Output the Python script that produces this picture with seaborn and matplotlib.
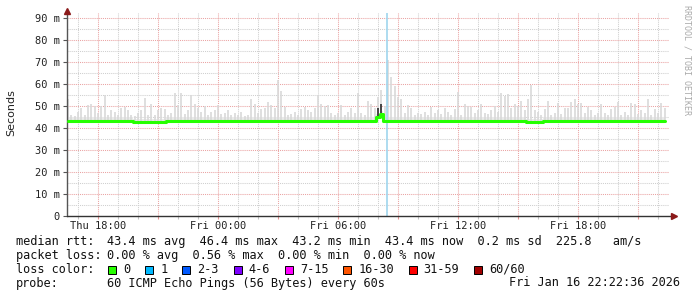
import numpy as np
import pandas as pd
import matplotlib
matplotlib.use("Agg")
import matplotlib.pyplot as plt
import matplotlib.dates as mdates
from matplotlib.patches import Rectangle
import seaborn as sns

# ---------------- data ----------------
start_time = "2026-01-15 16:30"
step = "10min"

median_ms = [
    43.4, 43.4, 43.4, 43.4, 43.4, 43.4, 43.4, 43.4, 43.4, 43.4,
    43.4, 43.4, 43.4, 43.4, 43.4, 43.4, 43.4, 43.4, 43.4, 43.4,
    42.9, 42.9, 42.9, 42.9, 42.9, 42.9, 42.9, 42.9, 42.9, 42.9,
    43.4, 43.4, 43.4, 43.4, 43.4, 43.4, 43.4, 43.4, 43.4, 43.4,
    43.4, 43.4, 43.4, 43.4, 43.4, 43.4, 43.4, 43.4, 43.4, 43.4,
    43.4, 43.4, 43.4, 43.4, 43.4, 43.4, 43.4, 43.4, 43.4, 43.4,
    43.4, 43.4, 43.4, 43.4, 43.4, 43.4, 43.4, 43.4, 43.4, 43.4,
    43.4, 43.4, 43.4, 43.4, 43.4, 43.4, 43.4, 43.4, 43.4, 43.4,
    43.4, 43.4, 43.4, 43.4, 43.4, 43.4, 43.4, 43.4, 43.4, 43.4,
    43.4, 43.4, 43.4, 44.8, 46.4, 43.4, 43.4, 43.4, 43.4, 43.4,
    43.4, 43.4, 43.4, 43.4, 43.4, 43.4, 43.4, 43.4, 43.4, 43.4,
    43.4, 43.4, 43.4, 43.4, 43.4, 43.4, 43.4, 43.4, 43.4, 43.4,
    43.4, 43.4, 43.4, 43.4, 43.4, 43.4, 43.4, 43.4, 43.4, 43.4,
    43.4, 43.4, 43.4, 43.4, 43.4, 43.4, 43.4, 43.4, 42.9, 42.9,
    42.9, 42.9, 42.9, 43.4, 43.4, 43.4, 43.4, 43.4, 43.4, 43.4,
    43.4, 43.4, 43.4, 43.4, 43.4, 43.4, 43.4, 43.4, 43.4, 43.4,
    43.4, 43.4, 43.4, 43.4, 43.4, 43.4, 43.4, 43.4, 43.4, 43.4,
    43.4, 43.4, 43.4, 43.4, 43.4, 43.4, 43.4, 43.4, 43.4, 43.4,
]

smoke_top_ms = [
    53.0, 46.0, 45.5, 47.5, 49.0, 46.0, 50.5, 51.0, 50.0, 47.0,
    50.0, 55.0, 46.0, 48.0, 47.5, 46.0, 49.0, 49.5, 48.0, 46.0,
    45.5, 47.0, 48.0, 53.5, 46.0, 51.0, 46.0, 48.0, 49.0, 48.5,
    46.0, 47.0, 56.0, 50.5, 56.0, 46.5, 48.0, 55.0, 51.0, 49.0,
    47.5, 50.0, 46.0, 47.5, 48.0, 50.5, 46.5, 47.0, 48.0, 46.0,
    47.0, 46.0, 47.5, 45.5, 46.0, 53.0, 51.0, 47.0, 48.5, 49.0,
    52.0, 50.5, 49.0, 62.0, 57.0, 49.5, 46.0, 46.5, 47.5, 46.0,
    48.5, 49.5, 48.0, 47.5, 49.0, 55.0, 51.0, 50.0, 50.5, 47.0,
    46.0, 47.0, 50.5, 46.0, 47.5, 49.0, 47.0, 56.0, 47.0, 46.0,
    52.5, 51.0, 49.0, 54.0, 57.5, 50.0, 71.0, 63.5, 59.0, 54.0,
    53.0, 47.0, 50.5, 49.0, 46.0, 47.0, 46.5, 47.5, 46.0, 49.5,
    47.0, 48.0, 46.5, 49.0, 47.5, 46.0, 48.5, 56.5, 46.0, 51.0,
    50.0, 49.5, 47.0, 48.0, 51.0, 47.0, 46.5, 48.0, 50.0, 47.5,
    56.0, 54.5, 55.5, 49.0, 51.0, 50.0, 52.5, 48.0, 53.0, 59.5,
    48.0, 47.5, 46.0, 48.5, 52.5, 46.0, 47.0, 51.5, 46.5, 49.0,
    49.0, 52.0, 53.0, 51.0, 51.5, 47.0, 49.5, 48.0, 46.0, 47.0,
    51.0, 47.0, 46.0, 48.5, 49.5, 52.0, 46.0, 47.5, 46.0, 51.5,
    51.0, 46.5, 48.0, 47.0, 53.0, 46.0, 48.5, 47.0, 51.5, 49.0,
]

dense_idx = [93, 94]
dense_top_ms = [49.0, 51.0]

loss_event_time = "2026-01-16 08:28"

y_ticks = [0, 10, 20, 30, 40, 50, 60, 70, 80, 90]
y_ticklabels = ["0", "10 m", "20 m", "30 m", "40 m", "50 m", "60 m", "70 m", "80 m", "90 m"]
y_minor = [5, 15, 25, 35, 45, 55, 65, 75, 85]

x_major = ["2026-01-15 18:00", "2026-01-15 21:00", "2026-01-16 00:00", "2026-01-16 03:00",
           "2026-01-16 06:00", "2026-01-16 09:00", "2026-01-16 12:00", "2026-01-16 15:00",
           "2026-01-16 18:00", "2026-01-16 21:00"]
x_major_labels = ["Thu 18:00", "", "Fri 00:00", "", "Fri 06:00", "", "Fri 12:00", "", "Fri 18:00", ""]
x_range = ["2026-01-15 16:27", "2026-01-16 22:33"]

legend_rows = [
    ("median rtt:", "43.4 ms avg  46.4 ms max  43.2 ms min  43.4 ms now  0.2 ms sd  225.8   am/s"),
    ("packet loss:", "0.00 % avg  0.56 % max  0.00 % min  0.00 % now"),
    ("loss color:", ""),
    ("probe:", "60 ICMP Echo Pings (56 Bytes) every 60s"),
]
stamp = "Fri Jan 16 22:22:36 2026"
loss_labels = ["0", "1", "2-3", "4-6", "7-15", "16-30", "31-59", "60/60"]
loss_colors = ["#26ff00", "#00b8ff", "#0059ff", "#7e00ff", "#ff00ff", "#ff5500", "#ff0000", "#a10000"]

# ---------------- drawing ----------------
sns.set_theme(style="white")
plt.rcParams["font.family"] = ["DejaVu Sans Mono", "DejaVu Sans"]

W, H = 697, 297
fig = plt.figure(figsize=(W / 100, H / 100), dpi=100)
fig.patch.set_facecolor("white")

ax_l, ax_r, ax_b, ax_t = 67, 669, 215.5, 13
px_per_ms = 197 / 90
ax = fig.add_axes([ax_l / W, 1 - ax_b / H, (ax_r - ax_l) / W, (ax_b - ax_t) / H])
ax.set_facecolor("white")

times = pd.date_range(start_time, periods=len(median_ms), freq=step)
df = pd.DataFrame({"time": times, "median": median_ms, "top": smoke_top_ms})

# smoke base band and spikes
ax.fill_between(df["time"], df["median"], np.array(median_ms) + 1.4,
                color="#eaeaea", step="mid", lw=0, zorder=2)
ax.vlines(df["time"], df["median"], df["top"], color="#d9d9d9", lw=1.2, zorder=2)
dense_times = df["time"].iloc[dense_idx]
ax.vlines(dense_times, np.array(median_ms)[dense_idx], dense_top_ms, color="#3a3a3a", lw=1.3, zorder=3)

# loss event rule
ax.axvline(pd.Timestamp(loss_event_time), color="#9fd6ee", lw=1.2, zorder=3)

# median line
sns.lineplot(data=df, x="time", y="median", color="#26ff00", lw=2.2,
             drawstyle="steps-mid", ax=ax, zorder=4)

ax.set_xlim(pd.Timestamp(x_range[0]), pd.Timestamp(x_range[1]))
ax.set_ylim(0, (ax_b - ax_t) / px_per_ms)

ax.set_yticks(y_ticks, y_ticklabels)
ax.set_yticks(y_minor, minor=True)
ax.set_xticks(pd.to_datetime(x_major), x_major_labels)
ax.xaxis.set_minor_locator(mdates.HourLocator())

grid_red = "#eaa3a3"
grid_gray = "#cfcfcf"
ax.grid(which="major", color=grid_red, ls=(0, (1, 1)), lw=0.75, zorder=1)
ax.grid(which="minor", color=grid_gray, ls=(0, (1, 1)), lw=0.75, zorder=1)
ax.set_axisbelow(True)

for s in ["top", "right", "bottom"]:
    ax.spines[s].set_visible(False)
ax.spines["left"].set_color("#555555")
ax.spines["left"].set_linewidth(1.0)
ax.plot([0, 1.008], [0, 0], transform=ax.transAxes, color="#333333", lw=1.0, clip_on=False, zorder=5)
ax.plot([0], [1.01], marker="^", ms=4, color="#8b1a1a", transform=ax.transAxes, clip_on=False, zorder=6)
ax.plot([1.008], [0], marker=">", ms=4, color="#8b1a1a", transform=ax.transAxes, clip_on=False, zorder=6)

ax.tick_params(axis="y", which="major", length=3, width=0.8, color="#555555", pad=2.0,
               labelsize=7.5, labelcolor="#222222", left=True)
ax.tick_params(axis="y", which="minor", length=0)
ax.tick_params(axis="x", which="major", length=2.5, width=0.8, color="#e09090", pad=1.8,
               labelsize=7.5, labelcolor="#222222", bottom=True)
ax.tick_params(axis="x", which="minor", length=2, width=0.8, color="#c0c0c0", bottom=True)
ax.set_xlabel("")
ax.set_ylabel("")


def fx(x):
    return x / W


def fy(y):
    return 1 - y / H


fig.text(fx(11), fy(113), "Seconds", rotation=90, ha="center", va="center",
         fontsize=8, family="DejaVu Sans", color="#222222")
fig.text(fx(687), fy(60), "RRDTOOL / TOBI OETIKER", rotation=270, ha="center", va="center",
         fontsize=6, color="#aaaaaa")

row_y = [241.5, 255.5, 269.5, 283.0]
fs = 8.6
for (lab, val), y in zip(legend_rows, row_y):
    fig.text(fx(16), fy(y), lab, ha="left", va="center", fontsize=fs, color="#111111")
    if val:
        fig.text(fx(107), fy(y), val, ha="left", va="center", fontsize=fs, color="#111111")
fig.text(fx(680), fy(row_y[3]), stamp, ha="right", va="center", fontsize=fs, color="#111111")

cw = 7.1
x = 108
for lab, col in zip(loss_labels, loss_colors):
    fig.patches.append(Rectangle((fx(x), fy(row_y[2] + 4)), 8 / W, 8 / H,
                                 transform=fig.transFigure, facecolor=col,
                                 edgecolor="#000000", lw=0.7))
    fig.text(fx(x + 15), fy(row_y[2]), lab, ha="left", va="center", fontsize=fs, color="#111111")
    x = x + 15 + len(lab) * cw + 15

fig.savefig("out.png", dpi=100, facecolor="white")
